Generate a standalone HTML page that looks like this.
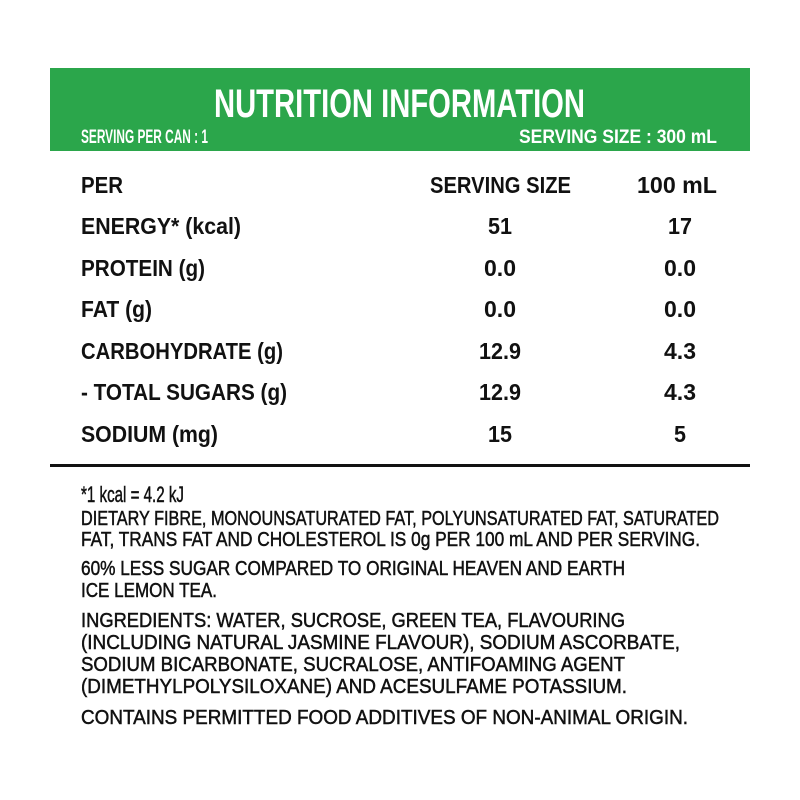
<!DOCTYPE html>
<html><head><meta charset="utf-8"><style>html,body{margin:0;padding:0;background:#fff}svg{display:block}</style></head>
<body>
<svg width="800" height="800" viewBox="0 0 800 800" xmlns="http://www.w3.org/2000/svg" font-family="Liberation Sans, sans-serif">
<rect x="50" y="68" width="700" height="83" fill="#2ba64b"/>
<g fill="#fff" font-weight="bold">
<text x="214" y="117" font-size="40" textLength="371" lengthAdjust="spacingAndGlyphs">NUTRITION INFORMATION</text>
<text x="81" y="143" font-size="19" textLength="127" lengthAdjust="spacingAndGlyphs">SERVING PER CAN : 1</text>
<text x="519" y="143" font-size="19" textLength="198" lengthAdjust="spacingAndGlyphs">SERVING SIZE : 300 mL</text>
</g>
<g fill="#111" font-size="23.5" font-weight="bold">
<text x="81" y="193" textLength="42" lengthAdjust="spacingAndGlyphs">PER</text>
<text x="430" y="193" textLength="141" lengthAdjust="spacingAndGlyphs">SERVING SIZE</text>
<text x="637" y="193" textLength="80" lengthAdjust="spacingAndGlyphs">100 mL</text>
<text x="81" y="234" textLength="160" lengthAdjust="spacingAndGlyphs">ENERGY* (kcal)</text>
<text x="81" y="276" textLength="124" lengthAdjust="spacingAndGlyphs">PROTEIN (g)</text>
<text x="81" y="317" textLength="71" lengthAdjust="spacingAndGlyphs">FAT (g)</text>
<text x="81" y="359" textLength="202" lengthAdjust="spacingAndGlyphs">CARBOHYDRATE (g)</text>
<text x="81" y="400" textLength="206" lengthAdjust="spacingAndGlyphs">- TOTAL SUGARS (g)</text>
<text x="81" y="442" textLength="137" lengthAdjust="spacingAndGlyphs">SODIUM (mg)</text>
</g>
<g fill="#111" font-size="23.5" font-weight="bold" text-anchor="middle">
<text x="500" y="234" textLength="24" lengthAdjust="spacingAndGlyphs">51</text>
<text x="680" y="234" textLength="24" lengthAdjust="spacingAndGlyphs">17</text>
<text x="500" y="276" textLength="32" lengthAdjust="spacingAndGlyphs">0.0</text>
<text x="680" y="276" textLength="32" lengthAdjust="spacingAndGlyphs">0.0</text>
<text x="500" y="317" textLength="32" lengthAdjust="spacingAndGlyphs">0.0</text>
<text x="680" y="317" textLength="32" lengthAdjust="spacingAndGlyphs">0.0</text>
<text x="500" y="359" textLength="42" lengthAdjust="spacingAndGlyphs">12.9</text>
<text x="680" y="359" textLength="32" lengthAdjust="spacingAndGlyphs">4.3</text>
<text x="500" y="400" textLength="42" lengthAdjust="spacingAndGlyphs">12.9</text>
<text x="680" y="400" textLength="32" lengthAdjust="spacingAndGlyphs">4.3</text>
<text x="500" y="442" textLength="24" lengthAdjust="spacingAndGlyphs">15</text>
<text x="680" y="442" textLength="12" lengthAdjust="spacingAndGlyphs">5</text>
</g>
<rect x="50" y="464" width="700" height="3" fill="#111"/>
<g fill="#111" font-size="20.5" stroke="#111" stroke-width="0.5">
<text x="81" y="502" font-size="22.5" textLength="103" lengthAdjust="spacingAndGlyphs">*1 kcal = 4.2 kJ</text>
<text x="81" y="525" textLength="638" lengthAdjust="spacingAndGlyphs">DIETARY FIBRE, MONOUNSATURATED FAT, POLYUNSATURATED FAT, SATURATED</text>
<text x="81" y="546" textLength="619" lengthAdjust="spacingAndGlyphs">FAT, TRANS FAT AND CHOLESTEROL IS 0g PER 100 mL AND PER SERVING.</text>
<text x="81" y="575" textLength="544" lengthAdjust="spacingAndGlyphs">60% LESS SUGAR COMPARED TO ORIGINAL HEAVEN AND EARTH</text>
<text x="81" y="597" textLength="136" lengthAdjust="spacingAndGlyphs">ICE LEMON TEA.</text>
<text x="81" y="627" textLength="544" lengthAdjust="spacingAndGlyphs">INGREDIENTS: WATER, SUCROSE, GREEN TEA, FLAVOURING</text>
<text x="81" y="649" textLength="599" lengthAdjust="spacingAndGlyphs">(INCLUDING NATURAL JASMINE FLAVOUR), SODIUM ASCORBATE,</text>
<text x="81" y="671" textLength="544" lengthAdjust="spacingAndGlyphs">SODIUM BICARBONATE, SUCRALOSE, ANTIFOAMING AGENT</text>
<text x="81" y="693" textLength="546" lengthAdjust="spacingAndGlyphs">(DIMETHYLPOLYSILOXANE) AND ACESULFAME POTASSIUM.</text>
<text x="81" y="724" textLength="607" lengthAdjust="spacingAndGlyphs">CONTAINS PERMITTED FOOD ADDITIVES OF NON-ANIMAL ORIGIN.</text>
</g>
</svg>
</body></html>
